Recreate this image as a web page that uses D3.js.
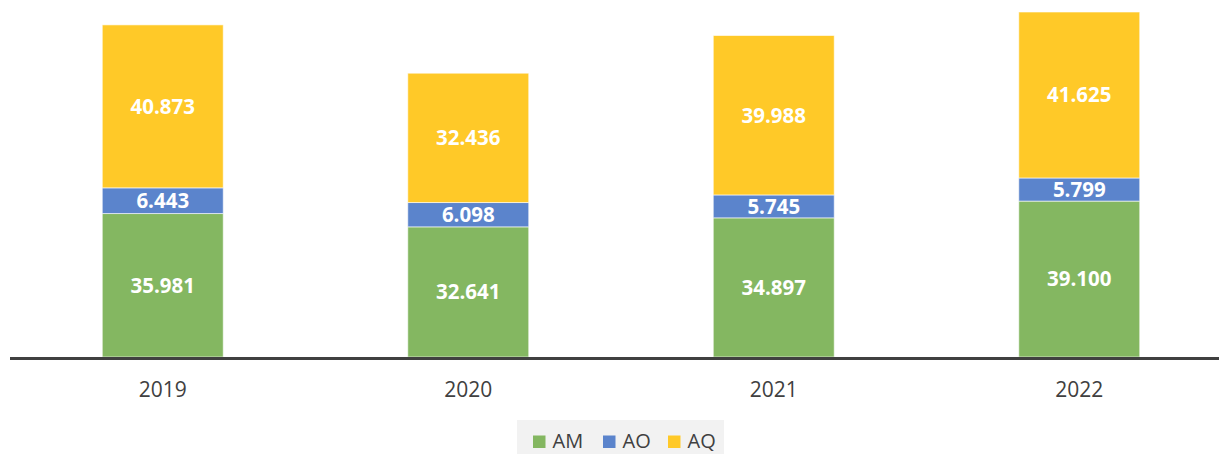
<!DOCTYPE html>
<html><head><meta charset="utf-8">
<script src="https://cdn.jsdelivr.net/npm/d3@7"></script>
<style>body{margin:0;background:#fff;} svg{display:block;font-family:"Open Sans",sans-serif;}</style>
</head><body><svg id="c" width="1219" height="454"></svg>
<script>
const categories = ["2019","2020","2021","2022"];
const seriesNames = ["AM","AO","AQ"];
const AM = [35.981, 32.641, 34.897, 39.100];
const AO = [6.443, 6.098, 5.745, 5.799];
const AQ = [40.873, 32.436, 39.988, 41.625];
const colors = ["#84b761","#5b84cc","#ffc928"];

const rows = categories.map((c,i)=>({cat:c, AM:AM[i], AO:AO[i], AQ:AQ[i]}));
const stack = d3.stack().keys(seriesNames)(rows);

const svg = d3.select("#c");
const x = d3.scaleBand().domain(categories).range([10,1232]).paddingInner(0.604).paddingOuter(0.302);
const y = d3.scaleLinear().domain([0,86.524]).range([357,12]);

svg.append("g").selectAll("g").data(stack).join("g")
  .attr("fill",(d,i)=>colors[i])
  .selectAll("rect").data(d=>d).join("rect")
  .attr("x",d=>x(d.data.cat)).attr("width",x.bandwidth())
  .attr("y",d=>y(d[1])).attr("height",d=>y(d[0])-y(d[1]))
  .attr("stroke","#fff").attr("stroke-width",1).attr("stroke-opacity",0.6);

svg.append("g").selectAll("g").data(stack).join("g")
  .selectAll("text").data(d=>d.map(v=>({v, key:d.key}))).join("text")
  .attr("x",d=>x(d.v.data.cat)+x.bandwidth()/2)
  .attr("y",d=>(y(d.v[0])+y(d.v[1]))/2)
  .attr("dy","0.36em").attr("text-anchor","middle")
  .attr("fill","#fff").attr("font-weight","bold").attr("font-size",20.5)
  .text(d=>d3.format(".3f")(d.v.data[d.key]));

// axis
const ax = svg.append("g").attr("transform","translate(0,358.5)")
  .call(d3.axisBottom(x).tickSize(0).tickPadding(23.5));
ax.select(".domain").remove();
svg.append("line").attr("x1",10).attr("x2",1219).attr("y1",358.5).attr("y2",358.5)
  .attr("stroke","#404040").attr("stroke-width",3);
ax.selectAll("text").attr("font-size",21).attr("fill","#404040").attr("font-family","'Open Sans',sans-serif");

// legend
const lg = svg.append("g");
lg.append("rect").attr("x",517).attr("y",420).attr("width",207).attr("height",34).attr("fill","#f2f2f2");
const lx = [533,603,668];
seriesNames.forEach((s,i)=>{
  lg.append("rect").attr("x",lx[i]).attr("y",435.5).attr("width",12.5).attr("height",12.5).attr("fill",colors[i]);
  lg.append("text").attr("x",lx[i]+19.5).attr("y",448)
    .attr("font-size",20).attr("fill","#404040").text(s);
});
</script></body></html>
